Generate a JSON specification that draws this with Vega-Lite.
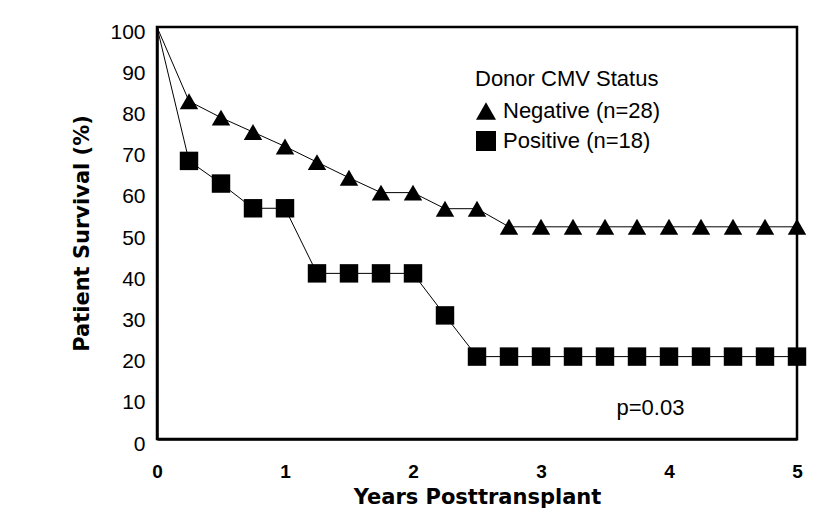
{
  "$schema": "https://vega.github.io/schema/vega-lite/v6.json",
  "autosize": {"type": "none"},
  "padding": {"left": 157, "top": 27, "right": 43, "bottom": 90},
  "width": 640,
  "height": 412,
  "background": "white",
  "config": {
    "font": "Liberation Sans",
    "view": {"stroke": "black", "strokeWidth": 2.5}
  },
  "datasets": {
    "surv": [
      {"years": 0, "survival": 100, "status": "Negative (n=28)"},
      {"years": 0.25, "survival": 82, "status": "Negative (n=28)"},
      {"years": 0.5, "survival": 78, "status": "Negative (n=28)"},
      {"years": 0.75, "survival": 74.5, "status": "Negative (n=28)"},
      {"years": 1, "survival": 71, "status": "Negative (n=28)"},
      {"years": 1.25, "survival": 67.2, "status": "Negative (n=28)"},
      {"years": 1.5, "survival": 63.4, "status": "Negative (n=28)"},
      {"years": 1.75, "survival": 59.8, "status": "Negative (n=28)"},
      {"years": 2, "survival": 59.8, "status": "Negative (n=28)"},
      {"years": 2.25, "survival": 55.9, "status": "Negative (n=28)"},
      {"years": 2.5, "survival": 55.9, "status": "Negative (n=28)"},
      {"years": 2.75, "survival": 51.5, "status": "Negative (n=28)"},
      {"years": 3, "survival": 51.5, "status": "Negative (n=28)"},
      {"years": 3.25, "survival": 51.5, "status": "Negative (n=28)"},
      {"years": 3.5, "survival": 51.5, "status": "Negative (n=28)"},
      {"years": 3.75, "survival": 51.5, "status": "Negative (n=28)"},
      {"years": 4, "survival": 51.5, "status": "Negative (n=28)"},
      {"years": 4.25, "survival": 51.5, "status": "Negative (n=28)"},
      {"years": 4.5, "survival": 51.5, "status": "Negative (n=28)"},
      {"years": 4.75, "survival": 51.5, "status": "Negative (n=28)"},
      {"years": 5, "survival": 51.5, "status": "Negative (n=28)"},
      {"years": 0, "survival": 100, "status": "Positive (n=18)"},
      {"years": 0.25, "survival": 67.5, "status": "Positive (n=18)"},
      {"years": 0.5, "survival": 62, "status": "Positive (n=18)"},
      {"years": 0.75, "survival": 56, "status": "Positive (n=18)"},
      {"years": 1, "survival": 56, "status": "Positive (n=18)"},
      {"years": 1.25, "survival": 40.2, "status": "Positive (n=18)"},
      {"years": 1.5, "survival": 40.2, "status": "Positive (n=18)"},
      {"years": 1.75, "survival": 40.2, "status": "Positive (n=18)"},
      {"years": 2, "survival": 40.2, "status": "Positive (n=18)"},
      {"years": 2.25, "survival": 30, "status": "Positive (n=18)"},
      {"years": 2.5, "survival": 20, "status": "Positive (n=18)"},
      {"years": 2.75, "survival": 20, "status": "Positive (n=18)"},
      {"years": 3, "survival": 20, "status": "Positive (n=18)"},
      {"years": 3.25, "survival": 20, "status": "Positive (n=18)"},
      {"years": 3.5, "survival": 20, "status": "Positive (n=18)"},
      {"years": 3.75, "survival": 20, "status": "Positive (n=18)"},
      {"years": 4, "survival": 20, "status": "Positive (n=18)"},
      {"years": 4.25, "survival": 20, "status": "Positive (n=18)"},
      {"years": 4.5, "survival": 20, "status": "Positive (n=18)"},
      {"years": 4.75, "survival": 20, "status": "Positive (n=18)"},
      {"years": 5, "survival": 20, "status": "Positive (n=18)"}
    ],
    "note": [{"years": 3.59, "survival": 7.5, "label": "p=0.03"}]
  },
  "encoding": {
    "x": {
      "field": "years", "type": "quantitative",
      "scale": {"domain": [0, 5], "nice": false},
      "axis": {
        "title": "Years Posttransplant", "values": [0, 1, 2, 3, 4, 5],
        "grid": false, "ticks": false, "domainColor": "black", "domainWidth": 2.5,
        "labelFont": "Liberation Sans", "labelFontWeight": "bold", "labelFontSize": 19,
        "labelColor": "black", "labelPadding": 23, "labelFlush": false,
        "titleFont": "DejaVu Sans", "titleFontWeight": "bold", "titleFontSize": 21,
        "titleColor": "black", "titlePadding": 5
      }
    },
    "y": {
      "field": "survival", "type": "quantitative",
      "scale": {"domain": [0, 100], "nice": false},
      "axis": {
        "title": "Patient Survival (%)", "values": [0, 10, 20, 30, 40, 50, 60, 70, 80, 90, 100],
        "grid": false, "ticks": false, "domainColor": "black", "domainWidth": 2.5,
        "labelFont": "Liberation Sans", "labelFontSize": 21, "labelColor": "black",
        "labelPadding": 12, "labelOffset": 5, "labelFlush": false,
        "titleFont": "DejaVu Sans", "titleFontWeight": "bold", "titleFontSize": 21,
        "titleColor": "black", "titlePadding": 17
      }
    }
  },
  "layer": [
    {
      "data": {"name": "surv"},
      "mark": {"type": "line", "color": "black", "strokeWidth": 1},
      "encoding": {"detail": {"field": "status"}}
    },
    {
      "data": {"name": "surv"},
      "transform": [{"filter": "datum.years > 0"}],
      "mark": {"type": "point", "filled": true, "opacity": 1, "size": 340, "color": "black"},
      "encoding": {
        "shape": {
          "field": "status", "type": "nominal",
          "scale": {"domain": ["Negative (n=28)", "Positive (n=18)"], "range": ["triangle-up", "square"]},
          "legend": {
            "title": "Donor CMV Status", "orient": "none", "legendX": 318, "legendY": 42,
            "titleFont": "Liberation Sans", "titleFontSize": 22, "titleFontWeight": "normal",
            "titleColor": "black", "titlePadding": 9, "titleLimit": 400,
            "labelFont": "Liberation Sans", "labelFontSize": 22, "labelColor": "black",
            "labelOffset": 6, "labelLimit": 400,
            "symbolFillColor": "black", "symbolStrokeColor": "black", "symbolSize": 400,
            "symbolOpacity": 1, "rowPadding": 5
          }
        }
      }
    },
    {
      "data": {"name": "note"},
      "mark": {"type": "text", "align": "left", "fontSize": 22, "font": "Liberation Sans", "color": "black"},
      "encoding": {"text": {"field": "label"}}
    }
  ]
}
